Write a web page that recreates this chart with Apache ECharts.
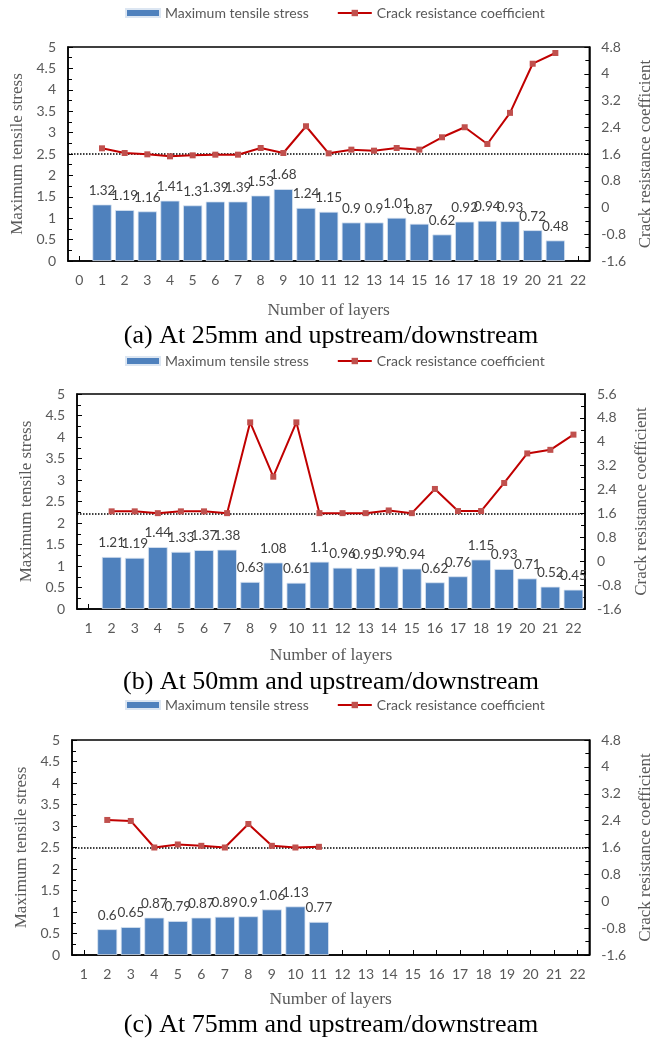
<!DOCTYPE html>
<html>
<head>
<meta charset="utf-8">
<script src="https://cdn.jsdelivr.net/npm/echarts@6/dist/echarts.min.js"></script>
<style>
  html, body { margin: 0; padding: 0; background: #fff; }
  #chart { width: 662px; height: 1042px; }
</style>
</head>
<body>
<div id="chart"></div>
<script>
  // (a) 25mm
  var catsA = ['0','1','2','3','4','5','6','7','8','9','10','11','12','13','14','15','16','17','18','19','20','21','22'];
  var layersA = ['1','2','3','4','5','6','7','8','9','10','11','12','13','14','15','16','17','18','19','20','21'];
  var stressA = [1.32, 1.19, 1.16, 1.41, 1.3, 1.39, 1.39, 1.53, 1.68, 1.24, 1.15, 0.9, 0.9, 1.01, 0.87, 0.62, 0.92, 0.94, 0.93, 0.72, 0.48];
  var crackA = [1.77, 1.63, 1.59, 1.53, 1.56, 1.58, 1.58, 1.78, 1.63, 2.43, 1.62, 1.73, 1.70, 1.78, 1.73, 2.10, 2.40, 1.90, 2.83, 4.30, 4.62];

  // (b) 50mm
  var catsB = ['1','2','3','4','5','6','7','8','9','10','11','12','13','14','15','16','17','18','19','20','21','22'];
  var layersB = ['2','3','4','5','6','7','8','9','10','11','12','13','14','15','16','17','18','19','20','21','22'];
  var stressB = [1.21, 1.19, 1.44, 1.33, 1.37, 1.38, 0.63, 1.08, 0.61, 1.1, 0.96, 0.95, 0.99, 0.94, 0.62, 0.76, 1.15, 0.93, 0.71, 0.52, 0.45];
  var crackB = [1.67, 1.67, 1.61, 1.67, 1.67, 1.61, 4.65, 2.83, 4.65, 1.61, 1.61, 1.61, 1.70, 1.61, 2.42, 1.68, 1.68, 2.62, 3.61, 3.73, 4.24];

  // (c) 75mm
  var catsC = ['1','2','3','4','5','6','7','8','9','10','11','12','13','14','15','16','17','18','19','20','21','22'];
  var layersC = ['2','3','4','5','6','7','8','9','10','11'];
  var stressC = [0.6, 0.65, 0.87, 0.79, 0.87, 0.89, 0.9, 1.06, 1.13, 0.77];
  var crackC = [2.42, 2.39, 1.60, 1.69, 1.65, 1.60, 2.30, 1.65, 1.60, 1.62];

  var captions = ['(a) At 25mm and upstream/downstream', '(b) At 50mm and upstream/downstream', '(c) At 75mm and upstream/downstream'];
  var rightMax = [4.8, 5.6, 4.8];
  var limitLine = 1.6;

  var panels = [
    { cats: catsA, layers: layersA, stress: stressA, crack: crackA,
      legendTop: 6, grid: { left: 68, top: 47, width: 525, height: 214 },
      nameGap: 40, leftGap: 36, rightGap: 42, captionTop: 323 },
    { cats: catsB, layers: layersB, stress: stressB, crack: crackB,
      legendTop: 354, grid: { left: 77, top: 394, width: 508, height: 215 },
      nameGap: 37, leftGap: 37, rightGap: 48, captionTop: 669 },
    { cats: catsC, layers: layersC, stress: stressC, crack: crackC,
      legendTop: 698, grid: { left: 72, top: 740, width: 519, height: 215 },
      nameGap: 35, leftGap: 36, rightGap: 43, captionTop: 1012 }
  ];

  var tickFont = { fontFamily: 'Lato', fontSize: 14, color: '#595959' };
  var nameFont = { fontFamily: 'Liberation Serif', fontSize: 17, color: '#595959' };

  var option = { animation: false, title: [], legend: [], grid: [], xAxis: [], yAxis: [], series: [] };

  panels.forEach(function (p, i) {
    option.title.push({
      text: captions[i], left: 'center', top: p.captionTop, padding: 0,
      textStyle: { fontFamily: 'Liberation Serif', fontSize: 26, fontWeight: 'normal', color: '#000' }
    });
    option.legend.push({
      left: 125, top: p.legendTop, padding: 0, itemGap: 28, itemWidth: 34, itemHeight: 8,
      textStyle: { fontFamily: 'Lato', fontSize: 14, color: '#595959' },
      data: [{ name: 'Maximum tensile stress', icon: 'rect' }, { name: 'Crack resistance coefficient' }]
    });
    option.grid.push({
      left: p.grid.left, top: p.grid.top, width: p.grid.width, height: p.grid.height,
      show: true, borderColor: '#000', borderWidth: 1.5, containLabel: false
    });
    option.xAxis.push({
      type: 'category', gridIndex: i, data: p.cats,
      name: 'Number of layers', nameLocation: 'middle', nameGap: p.nameGap,
      nameTextStyle: { fontFamily: 'Liberation Serif', fontSize: 17.5, color: '#595959' },
      axisLine: { lineStyle: { color: '#000', width: 1.5 } },
      axisTick: { show: true, inside: true, length: 5, alignWithLabel: true, lineStyle: { color: '#000' } },
      axisLabel: Object.assign({ interval: 0, margin: 12 }, tickFont),
      splitLine: { show: false }
    });
    option.yAxis.push({
      type: 'value', gridIndex: i, min: 0, max: 5, interval: 0.5, position: 'left',
      name: 'Maximum tensile stress', nameLocation: 'middle', nameRotate: 90, nameGap: p.leftGap,
      nameTextStyle: nameFont,
      axisLine: { show: true, lineStyle: { color: '#000', width: 1.5 } },
      axisTick: { show: true, inside: true, length: 5, lineStyle: { color: '#000' } },
      minorTick: { show: true, splitNumber: 2, length: 4, lineStyle: { color: '#000' } },
      axisLabel: Object.assign({ margin: 12 }, tickFont),
      splitLine: { show: false }
    });
    option.yAxis.push({
      type: 'value', gridIndex: i, min: -1.6, max: rightMax[i], interval: 0.8, position: 'right',
      name: 'Crack resistance coefficient', nameLocation: 'middle', nameRotate: 90, nameGap: p.rightGap,
      nameTextStyle: nameFont,
      axisLine: { show: true, lineStyle: { color: '#000', width: 1.5 } },
      axisTick: { show: true, inside: true, length: 5, lineStyle: { color: '#000' } },
      minorTick: { show: true, splitNumber: 2, length: 4, lineStyle: { color: '#000' } },
      axisLabel: Object.assign({
        margin: 12,
        formatter: function (v) { return String(Math.round(v * 10) / 10); }
      }, tickFont),
      splitLine: { show: false }
    });

    option.series.push({
      name: 'Maximum tensile stress', type: 'bar', xAxisIndex: i, yAxisIndex: i * 2,
      barCategoryGap: '15%',
      itemStyle: { color: '#4F81BD', borderColor: '#DCE6F2', borderWidth: 0.8 },
      label: {
        show: true, position: 'top', distance: 7,
        fontFamily: 'Lato', fontSize: 13.5, color: '#404040',
        formatter: function (d) { return d.value[1]; }
      },
      data: p.layers.map(function (l, k) { return [l, p.stress[k]]; })
    });
    option.series.push({
      name: 'Crack resistance coefficient', type: 'line', xAxisIndex: i, yAxisIndex: i * 2 + 1,
      symbol: 'rect', symbolSize: 6, z: 5,
      lineStyle: { color: '#C00000', width: 2 },
      itemStyle: { color: '#C0504D' },
      data: p.layers.map(function (l, k) { return [l, p.crack[k]]; }),
      markLine: {
        silent: true, symbol: ['none', 'none'], label: { show: false },
        lineStyle: { type: 'dotted', color: '#000', width: 1.5 },
        data: [{ yAxis: limitLine }]
      }
    });
  });

  var chart = echarts.init(document.getElementById('chart'));
  chart.setOption(option);
</script>
</body>
</html>
